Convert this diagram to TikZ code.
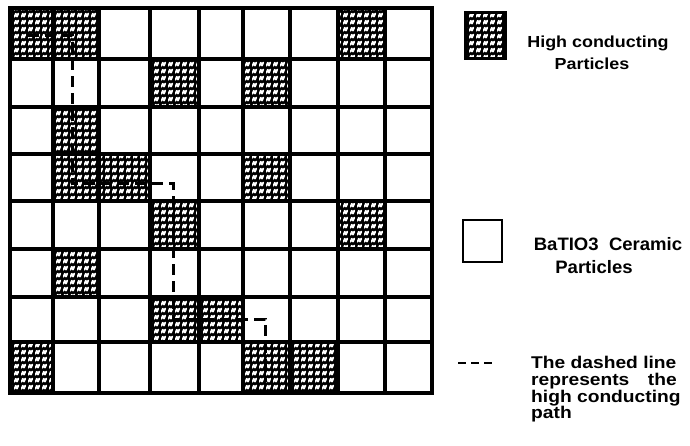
\documentclass[tikz,border=0pt]{standalone}
\usepackage{graphicx}
\usepackage{fontspec}
\setmainfont{Liberation Sans}
\usetikzlibrary{patterns.meta}
\tikzdeclarepattern{
  name=speckle,
  type=uncolored,
  bounding box={(0pt,0pt) and (7pt,7pt)},
  tile size={(7pt,7pt)},
  code={
    \draw[line width=2pt, line cap=round, line join=round]
      (0.6pt,1.4pt) -- (2pt,4.8pt) -- (3.4pt,1.6pt) -- (4.8pt,5pt);
  }
}
\begin{document}
\begin{tikzpicture}[x=1pt,y=-1pt,
  gridline/.style={line width=3.2pt},
  speck/.style={pattern=speckle, pattern color=white},
  condpath/.style={line width=3pt, dash pattern=on 11pt off 6pt},
  labA/.style={font=\fontsize{16}{18}\selectfont\bfseries, inner sep=0pt},
  labB/.style={font=\fontsize{18}{20}\selectfont\bfseries, inner sep=0pt},
  labC/.style={font=\fontsize{17}{17}\selectfont\bfseries, inner sep=0pt}]
\useasboundingbox (0,0) rectangle (690,445);
\def\xs{{10,53,99,150,199,243,290,338,385,432}}
\def\ys{{8,59,107,154,201,249,297,342,393}}
% shaded (high conducting) cells
\foreach \c/\r in {0/0,1/0,7/0,3/1,5/1,1/2,1/3,2/3,5/3,3/4,7/4,1/5,3/6,4/6,0/7,5/7,6/7}{
  \pgfmathsetmacro\xa{\xs[\c]}
  \pgfmathsetmacro\xb{\xs[\c+1]}
  \pgfmathsetmacro\ya{\ys[\r]}
  \pgfmathsetmacro\yb{\ys[\r+1]}
  \fill[black] (\xa,\ya) rectangle (\xb,\yb);
  \fill[speck] (\xa,\ya) rectangle (\xb,\yb);
}
% grid
\foreach \x in {53,99,150,199,243,290,338,385}
  \draw[gridline] (\x,8) -- (\x,393);
\foreach \y in {59,107,154,201,249,297,342}
  \draw[gridline] (10,\y) -- (432,\y);
\draw[line width=3.6pt] (10,8) rectangle (432,393);
% conducting path
\coordinate (p0) at (28,35);
\coordinate (p1) at (72,35);
\coordinate (p2) at (72,183);
\coordinate (p3) at (173,183);
\coordinate (p4) at (173,319);
\coordinate (p5) at (265,319);
\coordinate (p6) at (265,382);
\draw[condpath] (p0) -- (p1) -- (p2) -- (p3) -- (p4) -- (p5) -- (p6);
% legend
\fill[black] (465,12) rectangle (505,58);
\fill[speck] (465,12) rectangle (505,58);
\draw[line width=3pt] (465,12) rectangle (505,58);
\node[labA, anchor=base] (hc1) at (598,47) {\scalebox{1.12}[1]{High conducting}};
\node[labA, anchor=base] (hc2) at (592,69) {\scalebox{1.12}[1]{Particles}};
\draw[line width=2.6pt] (463,220) rectangle (502,262);
\node[labB, anchor=base] (bt1) at (608,250) {\scalebox{1.03}[1]{BaTIO3\ \ Ceramic}};
\node[labB, anchor=base] (bt2) at (594,273) {\scalebox{1.03}[1]{Particles}};
\coordinate (d0) at (458,363);
\coordinate (d1) at (494,363);
\draw[line width=2.4pt, dash pattern=on 8pt off 5pt] (d0) -- (d1);
\node[labC, anchor=base west] (dl1) at (531,368) {\scalebox{1.13}[1]{The dashed line}};
\node[labC, anchor=base west] (dl2) at (531,385) {\scalebox{1.13}[1]{represents}};
\node[labC, anchor=base east] (dl2b) at (677,385) {\scalebox{1.13}[1]{the}};
\node[labC, anchor=base west] (dl3) at (531,402) {\scalebox{1.13}[1]{high conducting}};
\node[labC, anchor=base west] (dl4) at (531,418) {\scalebox{1.13}[1]{path}};
\end{tikzpicture}
\end{document}
